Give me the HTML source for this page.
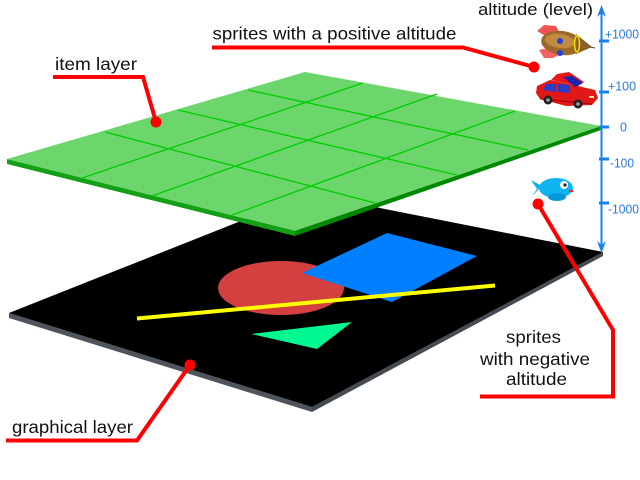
<!DOCTYPE html>
<html>
<head>
<meta charset="utf-8">
<style>
  html, body { margin: 0; padding: 0; background: #ffffff; }
  svg { display: block; }
  text { font-family: "Liberation Sans", Arial, sans-serif; }
</style>
</head>
<body>
<svg width="640" height="480" viewBox="0 0 640 480" xmlns="http://www.w3.org/2000/svg">
  <rect x="0" y="0" width="640" height="480" fill="#ffffff"/>

  <!-- ===== Graphical layer (black plate) ===== -->
  <polygon points="9,313 312,407 312,412 9,318" fill="#4d545c"/>
  <polygon points="312,407 603,252 603,256 312,412" fill="#454b52"/>
  <polygon points="9,313 309,194 603,252 312,407" fill="#000000"/>

  <!-- shapes on the graphical layer -->
  <ellipse cx="281" cy="288" rx="63" ry="27" fill="#d44040"/>
  <polygon points="302,273 387,233 477,256 392,302" fill="#0080ff"/>
  <line x1="137" y1="318.5" x2="495" y2="285.5" stroke="#ffff00" stroke-width="4"/>
  <polygon points="251,334 352,322 317,349" fill="#00f890"/>

  <!-- ===== Item layer (green plate) ===== -->
  <polygon points="7,159 295,231 295,236 7,164" fill="#14a014"/>
  <polygon points="295,231 601,126 601,130 295,236" fill="#008800"/>
  <polygon points="7,159 305,72 601,126 295,231" fill="#6cd66c"/>
  <g stroke="#00cc00" stroke-width="1.3" fill="none">
    <line x1="105" y1="132" x2="375" y2="203"/>
    <line x1="178" y1="110" x2="457" y2="175"/>
    <line x1="248" y1="90" x2="528" y2="150"/>
    <line x1="82" y1="178" x2="363" y2="83"/>
    <line x1="152" y1="196" x2="437" y2="94"/>
    <line x1="232" y1="215" x2="515" y2="111"/>
  </g>

  <!-- ===== Red callout connectors ===== -->
  <g stroke="#ff0000" stroke-width="4" fill="none" stroke-linejoin="miter">
    <polyline points="53,77 143,77 156,122"/>
    <polyline points="212,47.5 463,47.5 534,67"/>
    <polyline points="538,204 613,330 613,396.5 480,396.5"/>
    <polyline points="6,440.5 137,440.5 190,365"/>
  </g>
  <g fill="#ff0000">
    <circle cx="156" cy="122" r="5.5"/>
    <circle cx="534" cy="67" r="5.5"/>
    <circle cx="538" cy="204" r="5.5"/>
    <circle cx="190" cy="365" r="5.5"/>
  </g>

  <!-- ===== Sprites ===== -->
  <!-- rocket -->
  <g>
    <polygon points="537,31 544,25 556,26 560,34 547,37" fill="#f04040" opacity="0.9"/>
    <polygon points="539,50 552,47 561,54 553,58 544,58" fill="#f04848" opacity="0.85"/>
    <ellipse cx="562" cy="43" rx="21" ry="12" fill="#9c6a28" transform="rotate(8 562 43)"/>
    <ellipse cx="560" cy="41" rx="15" ry="7" fill="#c08a40" transform="rotate(8 560 41)"/>
    <polygon points="576,34 592,47 576,54" fill="#8a5e24"/>
    <line x1="590" y1="47" x2="595" y2="48" stroke="#404040" stroke-width="1"/>
    <ellipse cx="577" cy="44" rx="2.5" ry="8" fill="none" stroke="#f0e000" stroke-width="1.5"/>
    <circle cx="560" cy="41" r="3" fill="#2040e0"/>
    <circle cx="560" cy="53" r="3" fill="#2040e0"/>
  </g>
  <!-- car -->
  <g>
    <polygon points="551,80 557,74 569,72 584,82 578,86" fill="#e81818"/>
    <polygon points="537,86 550,80 578,86 595,90 598,98 592,105 566,106 540,99 536,93" fill="#e01818"/>
    <polygon points="543,90 546,84 556,84 556,92" fill="#2a3cc8"/>
    <polygon points="558,84 570,85 570,93 558,92" fill="#2a3cc8"/>
    <polygon points="563,77 572,76 583,83 575,87" fill="#1a24b0"/>
    <line x1="540" y1="99" x2="592" y2="104" stroke="#a00000" stroke-width="1"/>
    <circle cx="548" cy="100" r="4.5" fill="#202020"/>
    <circle cx="548" cy="100" r="1.8" fill="#a0a0a0"/>
    <circle cx="578" cy="104" r="4.5" fill="#202020"/>
    <circle cx="578" cy="104" r="1.8" fill="#a0a0a0"/>
    <rect x="589" y="96" width="5" height="2" fill="#f0f0a0"/>
  </g>
  <!-- fish -->
  <g>
    <polygon points="531,180 542,186 532,196 537,189" fill="#10b4f0"/>
    <ellipse cx="556" cy="188" rx="17" ry="10" fill="#10b4f0"/>
    <ellipse cx="557" cy="197" rx="9" ry="4" fill="#0898d8"/>
    <circle cx="564" cy="185" r="4" fill="#ffffff"/>
    <circle cx="565" cy="185" r="1.6" fill="#202020"/>
    <rect x="569" y="190" width="4" height="2" fill="#ff2020"/>
  </g>

  <!-- ===== Altitude axis ===== -->
  <g>
    <line x1="601.5" y1="9" x2="601.5" y2="250" stroke="#1a80f0" stroke-width="2"/>
    <polygon points="601.5,5 606,17 601.5,13 597,17" fill="#1a80f0"/>
    <polygon points="601.5,253 606,241 601.5,245 597,241" fill="#1a80f0"/>
    <g fill="#1a80f0">
      <rect x="599" y="39.5" width="10" height="3"/>
      <rect x="599" y="90.5" width="10" height="3"/>
      <rect x="599" y="125.5" width="10" height="3"/>
      <rect x="599" y="157.5" width="10" height="3"/>
      <rect x="599" y="201.5" width="10" height="3"/>
    </g>
    <g fill="#2a78e0" font-size="12.5">
      <text x="605" y="38.5" textLength="34" lengthAdjust="spacingAndGlyphs">+1000</text>
      <text x="608" y="90.5" textLength="28" lengthAdjust="spacingAndGlyphs">+100</text>
      <text x="620" y="131.5">0</text>
      <text x="610" y="167.5" textLength="24" lengthAdjust="spacingAndGlyphs">-100</text>
      <text x="608" y="213.5" textLength="31" lengthAdjust="spacingAndGlyphs">-1000</text>
    </g>
  </g>

  <!-- ===== Labels ===== -->
  <g fill="#111111" font-size="17.5">
    <text x="478" y="15" font-size="16.5" textLength="115" lengthAdjust="spacingAndGlyphs">altitude (level)</text>
    <text x="212.5" y="39.5" textLength="244" lengthAdjust="spacingAndGlyphs">sprites with a positive altitude</text>
    <text x="55" y="70" textLength="82" lengthAdjust="spacingAndGlyphs">item layer</text>
    <text x="506" y="343" textLength="55" lengthAdjust="spacingAndGlyphs">sprites</text>
    <text x="480" y="365" textLength="110" lengthAdjust="spacingAndGlyphs">with negative</text>
    <text x="506" y="385" textLength="61" lengthAdjust="spacingAndGlyphs">altitude</text>
    <text x="12" y="433" textLength="121" lengthAdjust="spacingAndGlyphs">graphical layer</text>
  </g>
</svg>
</body>
</html>
